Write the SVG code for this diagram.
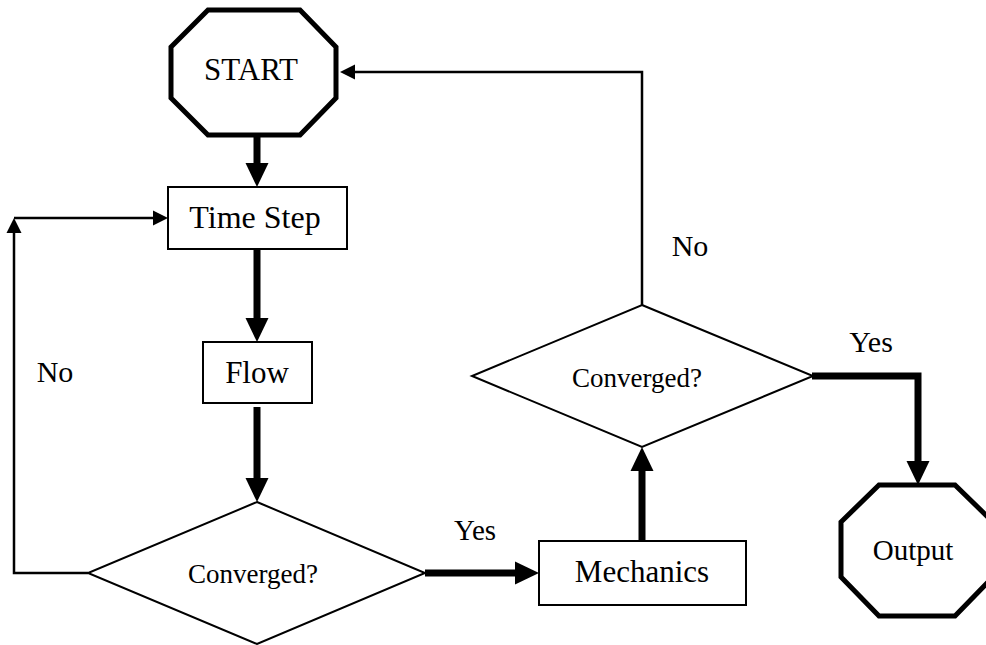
<svg xmlns="http://www.w3.org/2000/svg" width="986" height="645" viewBox="0 0 986 645">
<style>
text{font-family:"Liberation Serif","Times New Roman",serif;fill:#000;text-anchor:middle}
.box{fill:#fff;stroke:#000;stroke-width:2}
.oct{fill:#fff;stroke:#000;stroke-width:5;stroke-linejoin:miter}
.thick{fill:none;stroke:#000;stroke-width:7}
.thin{fill:none;stroke:#000;stroke-width:2.5}
</style>
<defs>
<marker id="ah" markerUnits="userSpaceOnUse" viewBox="0 -12 24 24" refX="0" refY="0" markerWidth="24" markerHeight="24" orient="auto">
<path d="M0,-11.5 L24,0 L0,11.5 z" fill="#000"/>
</marker>
<marker id="at" markerUnits="userSpaceOnUse" viewBox="0 -8 16 16" refX="0" refY="0" markerWidth="16" markerHeight="16" orient="auto">
<path d="M0,-7.5 L15,0 L0,7.5 z" fill="#000"/>
</marker>
</defs>
<g id="connectors">
<path class="thick" d="M257,135 V163" marker-end="url(#ah)"/>
<path class="thick" d="M257,249 V318" marker-end="url(#ah)"/>
<path class="thick" d="M257,407 V478" marker-end="url(#ah)"/>
<path class="thick" d="M425,573 H515" marker-end="url(#ah)"/>
<path class="thick" d="M642,541 V471" marker-end="url(#ah)"/>
<path class="thick" d="M812,376 H918 V461" marker-end="url(#ah)"/>
<path class="thin" d="M88,573 H14 V233" marker-end="url(#at)"/>
<path class="thin" d="M14,218 H153" marker-end="url(#at)"/>
<path class="thin" d="M642,305 V72 H355" marker-end="url(#at)"/>
<text x="55" y="382" font-size="30">No</text>
<text x="475" y="540" font-size="29">Yes</text>
<text x="871" y="352" font-size="30">Yes</text>
<text x="690" y="256" font-size="30">No</text>
</g>
<g id="start">
<polygon class="oct" points="208,10 300,10 336,47 336,98 300,135 208,135 171,98 171,47"/>
<text x="251" y="80" font-size="31">START</text>
</g>
<g id="timestep">
<rect class="box" x="168" y="187" width="179" height="62"/>
<text x="255" y="228" font-size="32">Time Step</text>
</g>
<g id="flow">
<rect class="box" x="203" y="342" width="109" height="61"/>
<text x="257" y="383" font-size="31">Flow</text>
</g>
<g id="converged1">
<polygon class="box" points="257,502 425,573 257,644 88,573"/>
<text x="253" y="583" font-size="27">Converged?</text>
</g>
<g id="mechanics">
<rect class="box" x="539" y="541" width="207" height="64"/>
<text x="642" y="582" font-size="31">Mechanics</text>
</g>
<g id="converged2">
<polygon class="box" points="642,305 813,376 642,447 472,376"/>
<text x="637" y="387" font-size="27">Converged?</text>
</g>
<g id="output">
<polygon class="oct" points="879,485 955,485 993,522 993,577 955,616 879,616 841,577 841,522"/>
<text x="913" y="560" font-size="29">Output</text>
</g>
</svg>
